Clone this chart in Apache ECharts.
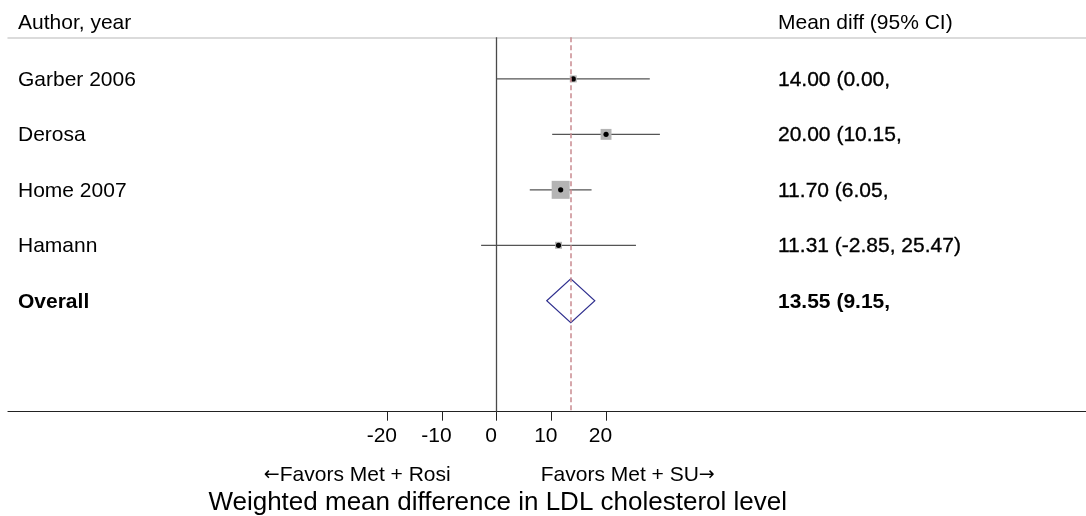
<!DOCTYPE html>
<html>
<head>
<meta charset="utf-8">
<script src="https://cdn.jsdelivr.net/npm/echarts@6/dist/echarts.min.js"></script>
<style>
html,body{margin:0;padding:0;background:#fff;}
#chart{width:1086px;height:516px;}
</style>
</head>
<body>
<div id="chart"></div>
<script>
// ---- data ----
const studies = ['Garber 2006', 'Derosa', 'Home 2007', 'Hamann'];
const estimates = [14.00, 20.00, 11.70, 11.31];
const lowerCI = [0.00, 10.15, 6.05, -2.85];
const upperCI = [28.00, 29.85, 17.35, 25.47];
const ciLabels = ['14.00 (0.00,', '20.00 (10.15,', '11.70 (6.05,', '11.31 (-2.85, 25.47)'];
const weights = [9, 22, 60, 9];
const overallName = 'Overall';
const overallEst = 13.55;
const overallLo = 9.15;
const overallHi = 17.95;
const overallLabel = '13.55 (9.15,';
const xTicks = [-20, -10, 0, 10, 20];
const headerLeft = 'Author, year';
const headerRight = 'Mean diff (95% CI)';
const favorsLeft = 'Favors Met + Rosi';
const favorsRight = 'Favors Met + SU';
const arrowLeft = '\u2190';
const arrowRight = '\u2192';
const axisTitle = 'Weighted mean difference in LDL cholesterol level';

// ---- layout ----
const FONT = '"Liberation Sans", Arial, sans-serif';
const FS = 21;
const X_MIN = -89.38, X_MAX = 107.78;
const LEFT_TEXT_X = 18, RIGHT_TEXT_X = 778;

const chart = echarts.init(document.getElementById('chart'), null, {renderer: 'canvas'});

const studyData = studies.map((s, i) => [i, estimates[i], lowerCI[i], upperCI[i], weights[i]]);
const maxW = Math.max.apply(null, weights);

const option = {
  animation: false,
  backgroundColor: '#fff',
  grid: {left: 8, right: 0, top: 37.3, bottom: 104.3, containLabel: false},
  xAxis: [{
    type: 'value', min: X_MIN, max: X_MAX, position: 'bottom',
    splitLine: {show: false},
    axisLine: {show: true, onZero: false, lineStyle: {color: '#222', width: 1.2}},
    axisTick: {show: true, inside: false, customValues: xTicks, length: 9, lineStyle: {color: '#222', width: 1}},
    axisLabel: {show: true, inside: false, customValues: xTicks, margin: 14, color: '#000', fontSize: FS, fontFamily: FONT, padding: [0, 11, 0, 0]}
  }, {
    type: 'value', min: X_MIN, max: X_MAX, position: 'top',
    splitLine: {show: false},
    axisLine: {show: true, onZero: false, lineStyle: {color: '#cfcfcf', width: 1.5}},
    axisTick: {show: false}, axisLabel: {show: false}
  }],
  yAxis: {type: 'value', inverse: true, min: -0.75, max: 6, show: false},
  series: [{
    type: 'custom',
    xAxisIndex: 0,
    silent: true,
    data: studyData,
    renderItem: function (params, api) {
      const row = api.value(0);
      const c = api.coord([api.value(1), row]);
      const l = api.coord([api.value(2), row]);
      const h = api.coord([api.value(3), row]);
      const size = 18 * Math.sqrt(api.value(4) / maxW);
      const i = params.dataIndex;
      return {
        type: 'group',
        children: [
          {type: 'line', shape: {x1: l[0], y1: c[1], x2: h[0], y2: c[1]}, style: {stroke: '#555', lineWidth: 1.2}},
          {type: 'rect', shape: {x: c[0] - size / 2, y: c[1] - size / 2, width: size, height: size}, style: {fill: '#b4b4b4'}},
          {type: 'circle', shape: {cx: c[0], cy: c[1], r: 2.6}, style: {fill: '#000'}},
          {type: 'text', style: {x: LEFT_TEXT_X, y: c[1] + 1, text: studies[i], fill: '#000', font: FS + 'px ' + FONT, align: 'left', verticalAlign: 'middle'}},
          {type: 'text', style: {x: RIGHT_TEXT_X, y: c[1] + 1, text: ciLabels[i], fill: '#000', stroke: '#000', lineWidth: 0.35, font: FS + 'px ' + FONT, align: 'left', verticalAlign: 'middle'}}
        ]
      };
    },
    markLine: {
      silent: true, symbol: ['none', 'none'], label: {show: false},
      data: [
        {xAxis: 0, lineStyle: {color: '#4a4a4a', width: 1.3, type: 'solid'}},
        {xAxis: overallEst, lineStyle: {color: '#c98a90', width: 1.5, type: [5, 3]}}
      ]
    }
  }, {
    type: 'custom',
    silent: true,
    data: [[studies.length, overallEst, overallLo, overallHi]],
    renderItem: function (params, api) {
      const row = api.value(0);
      const c = api.coord([api.value(1), row]);
      const l = api.coord([api.value(2), row]);
      const h = api.coord([api.value(3), row]);
      const hh = 22;
      return {
        type: 'group',
        children: [
          {type: 'polygon', shape: {points: [[l[0], c[1]], [c[0], c[1] - hh], [h[0], c[1]], [c[0], c[1] + hh]]}, style: {fill: 'none', stroke: '#2e2e8e', lineWidth: 1.1}},
          {type: 'text', style: {x: LEFT_TEXT_X, y: c[1] + 1, text: overallName, fill: '#000', font: 'bold ' + FS + 'px ' + FONT, align: 'left', verticalAlign: 'middle'}},
          {type: 'text', style: {x: RIGHT_TEXT_X, y: c[1] + 1, text: overallLabel, fill: '#000', font: 'bold ' + FS + 'px ' + FONT, align: 'left', verticalAlign: 'middle'}}
        ]
      };
    }
  }]
};
chart.setOption(option);

// header and bottom texts positioned relative to the axis
const zeroX = chart.convertToPixel({xAxisIndex: 0}, 0);
const richStyles = {
  arr: {fontFamily: '"DejaVu Sans", sans-serif', fontSize: 19, fill: '#000', color: '#000', verticalAlign: 'middle'},
  t: {fontFamily: FONT, fontSize: FS, fill: '#000', color: '#000', verticalAlign: 'middle'}
};
chart.setOption({
  graphic: [
    {type: 'text', left: LEFT_TEXT_X, top: 13, style: {text: headerLeft, fill: '#000', font: FS + 'px ' + FONT}},
    {type: 'text', left: RIGHT_TEXT_X, top: 13, style: {text: headerRight, fill: '#000', font: FS + 'px ' + FONT}},
    {type: 'text', x: zeroX - 46, y: 475, style: {text: '{arr|' + arrowLeft + '}{t|' + favorsLeft + '}', rich: richStyles, fill: '#000', font: FS + 'px ' + FONT, align: 'right', verticalAlign: 'middle'}},
    {type: 'text', x: zeroX + 44, y: 475, style: {text: '{t|' + favorsRight + '}{arr|' + arrowRight + '}', rich: richStyles, fill: '#000', font: FS + 'px ' + FONT, align: 'left', verticalAlign: 'middle'}},
    {type: 'text', x: zeroX + 1, y: 503, style: {text: axisTitle, fill: '#000', font: '26px ' + FONT, align: 'center', verticalAlign: 'middle'}}
  ]
});
</script>
</body>
</html>
